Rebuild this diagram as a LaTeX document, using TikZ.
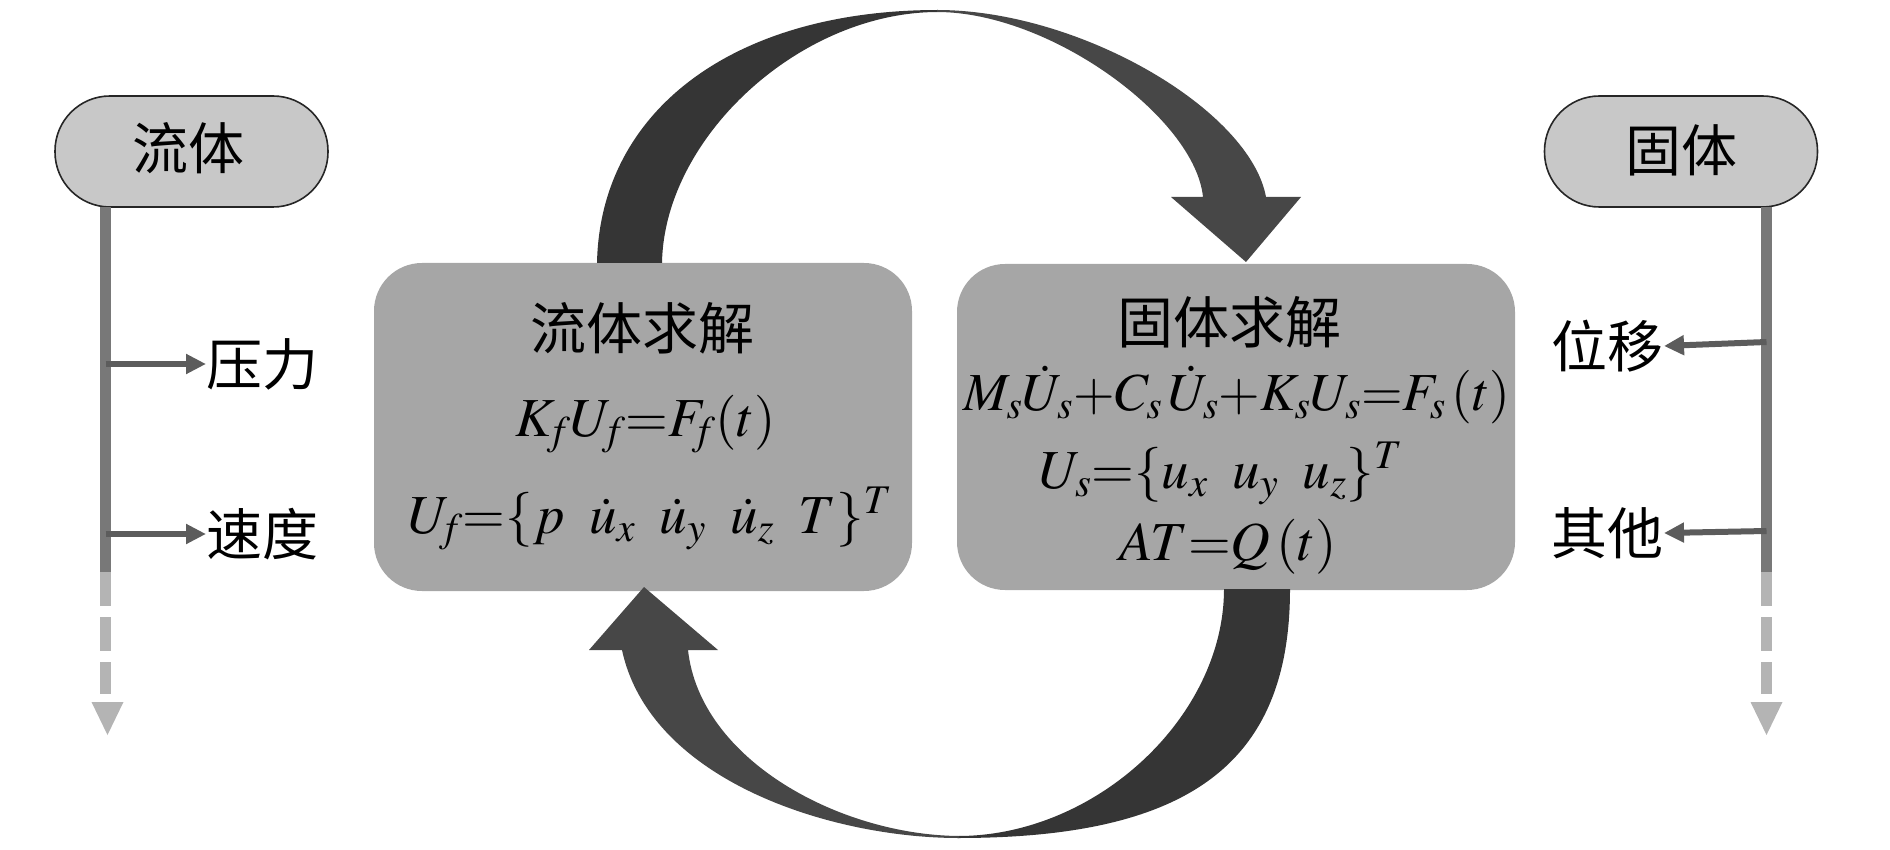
\documentclass[tikz,border=0pt]{standalone}
\usepackage{mathptmx}
\usepackage{fontspec}
\setmainfont{Liberation Serif}
\newfontfamily\cjkf{Noto Sans CJK SC}
\usetikzlibrary{arrows.meta}
\definecolor{pillgray}{HTML}{C8C8C8}
\definecolor{boxgray}{HTML}{A6A6A6}
\definecolor{linegray}{HTML}{787878}
\definecolor{dashgray}{HTML}{B4B4B4}
\definecolor{branchgray}{HTML}{5C5C5C}
\definecolor{arcdark}{HTML}{353535}
\definecolor{arcmid}{HTML}{474747}
\begin{document}
\begin{tikzpicture}[x=1pt,y=-1pt,
  pill/.style={draw=black!85, line width=1.6pt, fill=pillgray, rounded corners=55pt,
    minimum width=273pt, minimum height=111pt, inner sep=0pt},
  solver/.style={fill=boxgray, rounded corners=48pt, inner sep=0pt},
  cjktext/.style={font=\cjkf\fontsize{56}{60}\selectfont, inner sep=0pt},
  eqn/.style={font=\fontsize{55}{60}\selectfont, inner sep=0pt},
  mainline/.style={draw=linegray, line width=11pt},
  dashpart/.style={draw=dashgray, line width=11pt, dash pattern=on 34pt off 11pt},
  branch/.style={draw=branchgray, line width=6pt, -{Triangle[length=20pt,width=19pt]}},
]
\useasboundingbox (0,0) rectangle (1890,850);

% solver boxes
\node[solver, minimum width=538pt, minimum height=328pt] (fb) at (643,427) {};
\node[solver, minimum width=558pt, minimum height=326pt] (sb) at (1236,427) {};

% fluid solver text
\node[cjktext, anchor=base] (ft) at (642,349) {流体求解};
\node[eqn, anchor=base] (kf) at (646,436) {$K_{\!f}U_{\!f}{=}F_{\!f}(t)$};
\node[eqn, anchor=base] (uf) at (650,533) {$U_{\!f}{=}\{p\;\;\dot u_x\;\;\dot u_y\;\;\dot u_z\;\;T\}^{T}$};

% solid solver text
\node[cjktext, anchor=base] (st) at (1229,343) {固体求解};
\node[eqn, anchor=base, font=\fontsize{53.5}{60}\selectfont] (ms) at (1237,410) {$M_s\dot U_s{+}C_s\,\dot U_s{+}K_sU_s{=}F_s\,(t)$};
\node[eqn, anchor=base] (us) at (1221,488) {$U_s{=}\{u_x\;\;u_y\;\;u_z\}^{T}$};
\node[eqn, anchor=base] (at) at (1228,560) {$AT{=}Q\,(t)$};

% top curved arrow (fluid -> solid)
\fill[arcdark] (597,263) .. controls (600,111) and (733,10) .. (938,10)
  -- (938,12) .. controls (800,12) and (664,137.5) .. (662,263) -- cycle;
\fill[arcmid] (937,10) .. controls (1080,10) and (1250,110) .. (1266,197)
  -- (1301,197) -- (1246,262) -- (1171,197) -- (1203,197)
  .. controls (1195,118) and (1050,12) .. (937,12) -- cycle;

% bottom curved arrow (solid -> fluid)
\fill[arcdark] (1290,589) .. controls (1290,763) and (1190,838) .. (958,838)
  -- (958,836) .. controls (1096,836) and (1224,717) .. (1224,589) -- cycle;
\fill[arcmid] (959,838) .. controls (830,838) and (650,780) .. (622,650)
  -- (589,650) -- (644,587) -- (718,650) -- (688,650)
  .. controls (700,760) and (840,835) .. (959,836) -- cycle;

% left column: fluid
\node[pill] (fl) at (191.5,151.5) {};
\node[cjktext, anchor=base] (flt) at (188,170) {流体};
\coordinate (la) at (105.5,207);
\coordinate (lb) at (105.5,572);
\coordinate (lc) at (105.5,694);
\coordinate (l1) at (105.5,364);
\coordinate (l2) at (105.5,534);
\draw[mainline] (la) -- (lb);
\draw[dashpart] (lb) -- (lc);
\fill[dashgray] (91.5,702) -- (123.5,702) -- (107.5,735) -- cycle;
\node[cjktext, anchor=west] (yl) at (206,364) {压力};
\node[cjktext, anchor=west] (sd) at (206,534) {速度};
\draw[branch] (l1) -- (yl.west);
\draw[branch] (l2) -- (sd.west);

% right column: solid
\node[pill] (sl) at (1681,151.5) {};
\node[cjktext, anchor=base] (slt) at (1681,172) {固体};
\coordinate (ra) at (1766.5,207);
\coordinate (rb) at (1766.5,572);
\coordinate (rc) at (1766.5,694);
\coordinate (r1) at (1766.5,342);
\coordinate (r2) at (1766.5,531);
\draw[mainline] (ra) -- (rb);
\draw[dashpart] (rb) -- (rc);
\fill[dashgray] (1750.5,702) -- (1782.5,702) -- (1766.5,735) -- cycle;
\node[cjktext, anchor=east] (wy) at (1664,346) {位移};
\node[cjktext, anchor=east] (qt) at (1664,533) {其他};
\draw[branch] (r1) -- (wy.east);
\draw[branch] (r2) -- (qt.east);
\end{tikzpicture}
\end{document}
